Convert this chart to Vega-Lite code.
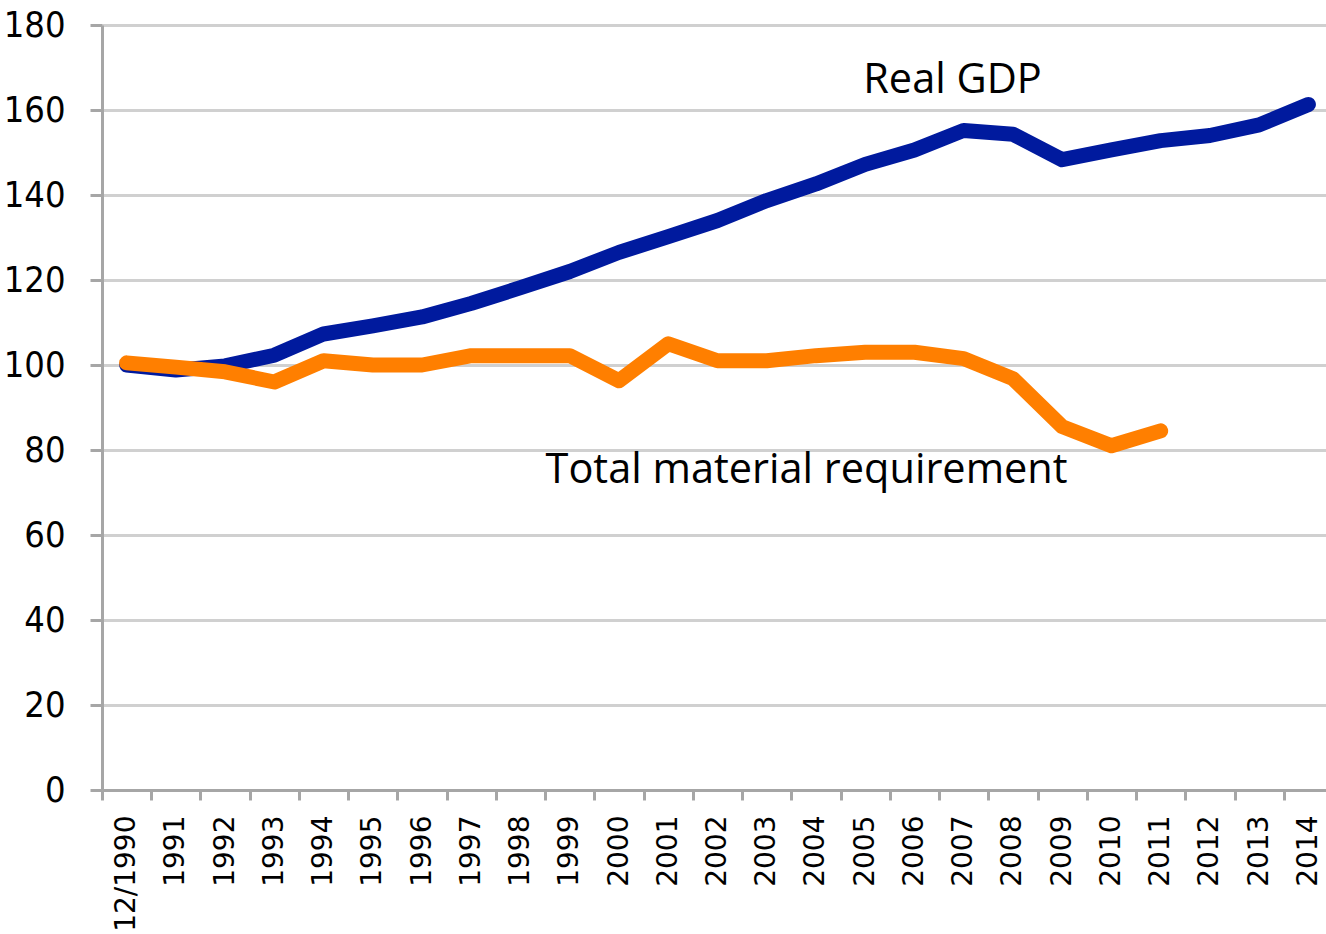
{
  "$schema": "https://vega.github.io/schema/vega-lite/v6.json",
  "autosize": "none",
  "width": 1224,
  "height": 765,
  "padding": {"left": 102, "top": 25, "right": 0, "bottom": 144},
  "background": "white",
  "config": {"view": {"stroke": null}},
  "datasets": {
    "series": [
      {"year": "1990", "series": "Real GDP", "value": 100},
      {"year": "1991", "series": "Real GDP", "value": 98.8},
      {"year": "1992", "series": "Real GDP", "value": 99.8},
      {"year": "1993", "series": "Real GDP", "value": 102.3},
      {"year": "1994", "series": "Real GDP", "value": 107.3},
      {"year": "1995", "series": "Real GDP", "value": 109.2},
      {"year": "1996", "series": "Real GDP", "value": 111.3},
      {"year": "1997", "series": "Real GDP", "value": 114.5},
      {"year": "1998", "series": "Real GDP", "value": 118.2},
      {"year": "1999", "series": "Real GDP", "value": 122},
      {"year": "2000", "series": "Real GDP", "value": 126.5},
      {"year": "2001", "series": "Real GDP", "value": 130.2},
      {"year": "2002", "series": "Real GDP", "value": 134},
      {"year": "2003", "series": "Real GDP", "value": 138.7},
      {"year": "2004", "series": "Real GDP", "value": 142.6},
      {"year": "2005", "series": "Real GDP", "value": 147.2},
      {"year": "2006", "series": "Real GDP", "value": 150.6},
      {"year": "2007", "series": "Real GDP", "value": 155.2},
      {"year": "2008", "series": "Real GDP", "value": 154.3},
      {"year": "2009", "series": "Real GDP", "value": 148.3},
      {"year": "2010", "series": "Real GDP", "value": 150.6},
      {"year": "2011", "series": "Real GDP", "value": 152.8},
      {"year": "2012", "series": "Real GDP", "value": 154},
      {"year": "2013", "series": "Real GDP", "value": 156.5},
      {"year": "2014", "series": "Real GDP", "value": 161.3},
      {"year": "1990", "series": "Total material requirement", "value": 100.5},
      {"year": "1991", "series": "Total material requirement", "value": 99.5},
      {"year": "1992", "series": "Total material requirement", "value": 98.4},
      {"year": "1993", "series": "Total material requirement", "value": 96},
      {"year": "1994", "series": "Total material requirement", "value": 101},
      {"year": "1995", "series": "Total material requirement", "value": 100},
      {"year": "1996", "series": "Total material requirement", "value": 100},
      {"year": "1997", "series": "Total material requirement", "value": 102.2},
      {"year": "1998", "series": "Total material requirement", "value": 102.2},
      {"year": "1999", "series": "Total material requirement", "value": 102.2},
      {"year": "2000", "series": "Total material requirement", "value": 96.3},
      {"year": "2001", "series": "Total material requirement", "value": 105},
      {"year": "2002", "series": "Total material requirement", "value": 101},
      {"year": "2003", "series": "Total material requirement", "value": 101},
      {"year": "2004", "series": "Total material requirement", "value": 102.2},
      {"year": "2005", "series": "Total material requirement", "value": 103},
      {"year": "2006", "series": "Total material requirement", "value": 103},
      {"year": "2007", "series": "Total material requirement", "value": 101.5},
      {"year": "2008", "series": "Total material requirement", "value": 96.8},
      {"year": "2009", "series": "Total material requirement", "value": 85.5},
      {"year": "2010", "series": "Total material requirement", "value": 81},
      {"year": "2011", "series": "Total material requirement", "value": 84.5}
    ],
    "labels": [
      {"year": "2005", "value": 164, "label": "Real GDP"},
      {"year": "1998", "value": 72.2, "label": "Total material requirement"}
    ]
  },
  "encoding": {
    "x": {
      "field": "year",
      "type": "ordinal",
      "sort": ["1990","1991","1992","1993","1994","1995","1996","1997","1998","1999","2000","2001","2002","2003","2004","2005","2006","2007","2008","2009","2010","2011","2012","2013","2014"],
      "scale": {
        "domain": ["1990","1991","1992","1993","1994","1995","1996","1997","1998","1999","2000","2001","2002","2003","2004","2005","2006","2007","2008","2009","2010","2011","2012","2013","2014"],
        "type": "band",
        "paddingInner": 0,
        "paddingOuter": 0,
        "range": [0, 1231]
      },
      "axis": {
        "title": null,
        "labelExpr": "datum.value == '1990' ? '12/1990' : datum.value",
        "labelAngle": -90,
        "labelFont": "DejaVu Sans",
        "labelFontSize": 28,
        "labelColor": "#000000",
        "labelPadding": 15,
        "labelOverlap": false,
        "labelBound": false,
        "labelFlush": false,
        "tickBand": "extent",
        "tickSize": 10,
        "tickWidth": 3,
        "tickColor": "#a6a6a6",
        "domainColor": "#a6a6a6",
        "domainWidth": 3,
        "grid": false
      }
    },
    "y": {
      "field": "value",
      "type": "quantitative",
      "scale": {"domain": [0, 180], "nice": false, "zero": true},
      "axis": {
        "title": null,
        "values": [0, 20, 40, 60, 80, 100, 120, 140, 160, 180],
        "labelFont": "DejaVu Sans Condensed, DejaVu Sans",
        "labelFontSize": 36,
        "labelColor": "#000000",
        "labelPadding": 25,
        "tickSize": 12,
        "tickWidth": 3,
        "tickColor": "#a6a6a6",
        "domainColor": "#a6a6a6",
        "domainWidth": 3,
        "grid": true,
        "gridColor": "#d0d0d0",
        "gridWidth": 3
      }
    }
  },
  "layer": [
    {
      "data": {"name": "series"},
      "transform": [{"filter": "datum.series == 'Real GDP'"}],
      "mark": {"type": "line", "color": "#001A9E", "strokeWidth": 15, "strokeCap": "round", "strokeJoin": "round"}
    },
    {
      "data": {"name": "series"},
      "transform": [{"filter": "datum.series == 'Total material requirement'"}],
      "mark": {"type": "line", "color": "#FF7F00", "strokeWidth": 15, "strokeCap": "round", "strokeJoin": "round"}
    },
    {
      "data": {"name": "labels"},
      "transform": [{"filter": "datum.label == 'Real GDP'"}],
      "mark": {"type": "text", "align": "left", "baseline": "alphabetic", "dx": -2, "font": "Open Sans", "fontSize": 41.5, "color": "#000000"},
      "encoding": {"text": {"field": "label"}}
    },
    {
      "data": {"name": "labels"},
      "transform": [{"filter": "datum.label == 'Total material requirement'"}],
      "mark": {"type": "text", "align": "left", "baseline": "alphabetic", "dx": 25, "font": "Open Sans", "fontSize": 41.5, "color": "#000000"},
      "encoding": {"text": {"field": "label"}}
    }
  ]
}
